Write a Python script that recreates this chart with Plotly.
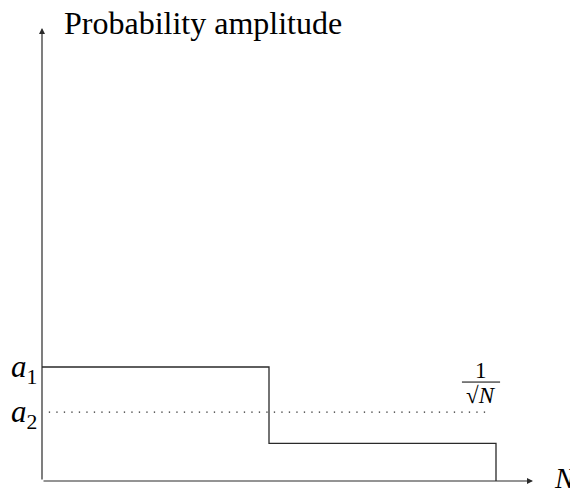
import plotly.graph_objects as go

# data (arbitrary units)
step_x = [0, 1, 1, 2, 2]
step_y = [1.0, 1.0, 0.33, 0.33, 0.0]
dot_x = [0.03, 1.965]
dot_y = [0.605, 0.605]
x_max = 2.163
y_max = 3.974
level_labels = ["<i>a</i><sub>1</sub>", "<i>a</i><sub>2</sub>"]
level_values = [1.0, 0.605]
y_title = "Probability amplitude"
x_title = "<i>N</i>"

FONT = "Liberation Serif"
BIG = 32

# axis scaling: 1 x-unit = 227 px, 1 y-unit = 114 px; origin at (34, 473) in figure px
XU, YU = 227.0, 114.0
OX, OY = 34.0, 473.0
W, H = 578, 494

fig = go.Figure()
fig.add_trace(go.Scatter(x=step_x, y=step_y, mode="lines",
                         line=dict(color="#2a2a2a", width=1.3), hoverinfo="skip"))
fig.add_trace(go.Scatter(x=dot_x, y=dot_y, mode="lines",
                         line=dict(color="#2a2a2a", width=1.3, dash="1.3px,6.2px"), hoverinfo="skip"))

ann = []
ann.append(dict(x=x_max, y=0, ax=0, ay=0, xref="x", yref="y", axref="x", ayref="y",
                showarrow=True, arrowhead=2, arrowsize=1, arrowwidth=1.2, arrowcolor="#2a2a2a", text=""))
ann.append(dict(x=0, y=y_max, ax=0, ay=0, xref="x", yref="y", axref="x", ayref="y",
                showarrow=True, arrowhead=2, arrowsize=1, arrowwidth=1.2, arrowcolor="#2a2a2a", text=""))
ann.append(dict(x=0.09, y=4.02, xref="x", yref="y", text=y_title,
                showarrow=False, xanchor="left", yanchor="middle",
                font=dict(family=FONT, size=BIG, color="black")))
ann.append(dict(x=2.248, y=0.03, xref="x", yref="y", text=x_title,
                showarrow=False, xanchor="left", yanchor="middle",
                font=dict(family=FONT, size=29, color="black")))
for lab, v in zip(level_labels, level_values):
    ann.append(dict(x=-0.015, y=v - 0.02, xref="x", yref="y", text=lab, showarrow=False,
                    xanchor="right", yanchor="middle",
                    font=dict(family=FONT, size=31, color="black")))
# fraction 1/sqrt(N)
FX = 1.934
ann.append(dict(x=FX, y=0.84, xref="x", yref="y", text="1", showarrow=False,
                xanchor="center", yanchor="bottom", font=dict(family=FONT, size=23, color="black")))
ann.append(dict(x=FX, y=0.875, xref="x", yref="y", text="√<i>N</i>", showarrow=False,
                xanchor="center", yanchor="top", font=dict(family=FONT, size=23, color="black")))

fig.update_layout(
    width=W, height=H,
    margin=dict(l=0, r=0, t=0, b=0),
    paper_bgcolor="white", plot_bgcolor="white",
    showlegend=False,
    annotations=ann,
    shapes=[dict(type="line", xref="x", yref="y", x0=1.850, x1=2.018, y0=0.868, y1=0.868,
                 line=dict(color="black", width=1))],
    xaxis=dict(range=[-OX / XU, (W - OX) / XU], visible=False, fixedrange=True),
    yaxis=dict(range=[-(H - OY) / YU, OY / YU], visible=False, fixedrange=True),
)
fig.write_html("out.html")
